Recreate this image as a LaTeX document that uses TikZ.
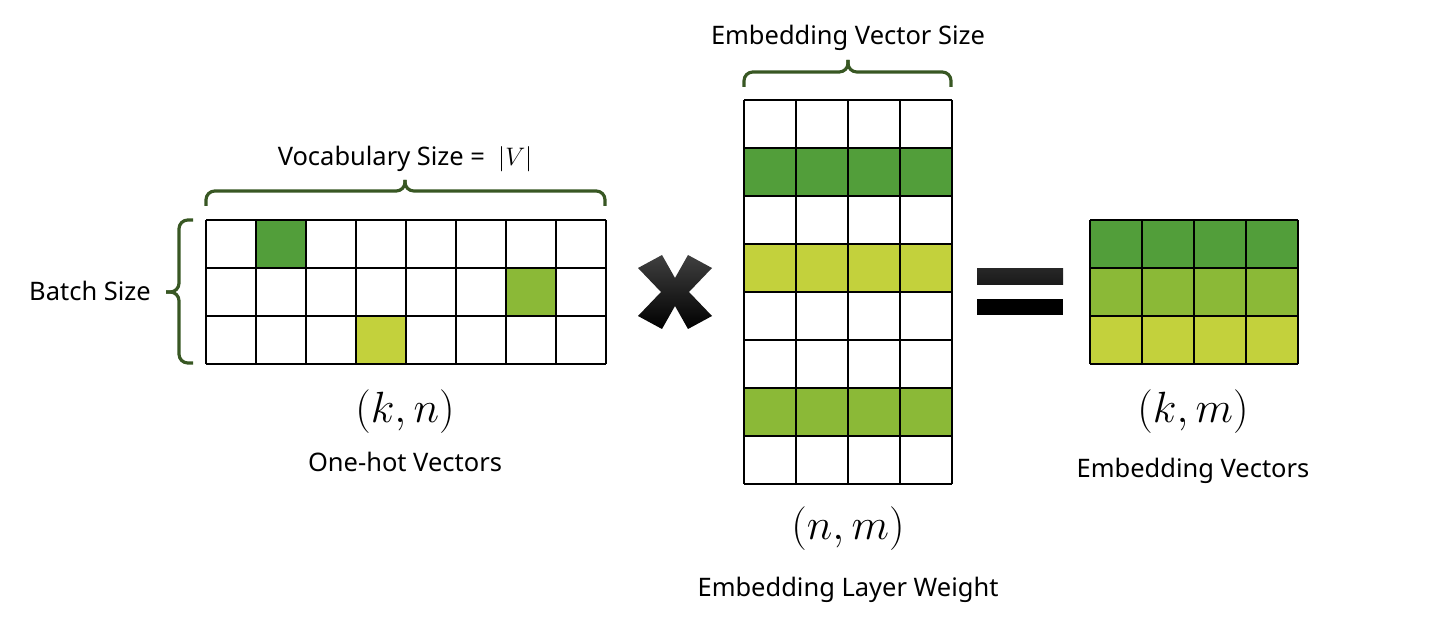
\documentclass[tikz,border=0pt]{standalone}
\usepackage{fontspec}
\setmainfont{Noto Sans}
\usepackage{tikz}
\usetikzlibrary{positioning}
\definecolor{embdark}{RGB}{82,158,58}
\definecolor{embmid}{RGB}{139,185,55}
\definecolor{emblight}{RGB}{195,209,60}
\definecolor{bracegreen}{RGB}{56,87,35}
\tikzstyle{cell} = [draw=black, line width=1.2pt]
\tikzstyle{brace} = [draw=bracegreen, line width=1.8pt, rounded corners=5pt]
\tikzstyle{textlabel} = [anchor=base, inner sep=0pt, font=\fontsize{14.5}{17}\selectfont]
\tikzstyle{dimlabel} = [anchor=base, inner sep=0pt, font=\fontsize{24}{28}\selectfont]

\begin{document}
\begin{tikzpicture}[x=0.02cm, y=-0.02cm]
\useasboundingbox (0,0) rectangle (1456,624);

% One-hot vectors (k,n)
\begin{scope}[shift={(206,220)}]
\fill[embdark] (50,0) rectangle (100,48);
\fill[embmid] (300,48) rectangle (350,96);
\fill[emblight] (150,96) rectangle (200,144);
\foreach \i in {0,...,8} \draw[cell] (\i*50,0) -- (\i*50,144);
\foreach \j in {0,...,3} \draw[cell] (0,\j*48) -- (400,\j*48);
\end{scope}

% Embedding layer weight (n,m)
\begin{scope}[shift={(744,100)}]
\fill[embdark] (0,48) rectangle (208,96);
\fill[emblight] (0,144) rectangle (208,192);
\fill[embmid] (0,288) rectangle (208,336);
\foreach \i in {0,...,4} \draw[cell] (\i*52,0) -- (\i*52,384);
\foreach \j in {0,...,8} \draw[cell] (0,\j*48) -- (208,\j*48);
\end{scope}

% Embedding vectors (k,m)
\begin{scope}[shift={(1090,220)}]
\fill[embdark] (0,0) rectangle (208,48);
\fill[embmid] (0,48) rectangle (208,96);
\fill[emblight] (0,96) rectangle (208,144);
\foreach \i in {0,...,4} \draw[cell] (\i*52,0) -- (\i*52,144);
\foreach \j in {0,...,3} \draw[cell] (0,\j*48) -- (208,\j*48);
\end{scope}

% Braces
\draw[brace] (206,206) |- (405,191) -- (405,180);
\draw[brace] (605,206) |- (405,191) -- (405,180);
\draw[brace] (193,220) -| (179,292) -- (166,292);
\draw[brace] (193,363) -| (179,292) -- (166,292);
\draw[brace] (744,87) |- (848,72) -- (848,60);
\draw[brace] (951,87) |- (848,72) -- (848,60);

% Times and equals signs
\shade[top color=black!75, middle color=black, bottom color=black]
  (638,268) -- (662,255) -- (675,278) -- (688,255) -- (712,268) -- (689,292)
  -- (712,316) -- (688,329) -- (675,306) -- (662,329) -- (638,316) -- (661,292) -- cycle;
\shade[top color=black!85, middle color=black!65, bottom color=black!90] (977,269) rectangle (1063,285);
\fill[black] (977,299) rectangle (1063,315);

% Labels
\node[textlabel] (vocab) at (405,166) {Vocabulary Size =\ \ $|V|$};
\node[textlabel] (batch) at (90,301) {Batch Size};
\node[textlabel] (embsize) at (848,45) {Embedding Vector Size};
\node[dimlabel] (kn) at (405,422) {$(k,n)$};
\node[textlabel] (onehot) at (405,471) {One-hot Vectors};
\node[dimlabel] (nm) at (848,539) {$(n,m)$};
\node[textlabel] (weight) at (848,596) {Embedding Layer Weight};
\node[dimlabel] (km) at (1193,422) {$(k,m)$};
\node[textlabel] (embvec) at (1193,478) {Embedding Vectors};
\end{tikzpicture}
\end{document}
